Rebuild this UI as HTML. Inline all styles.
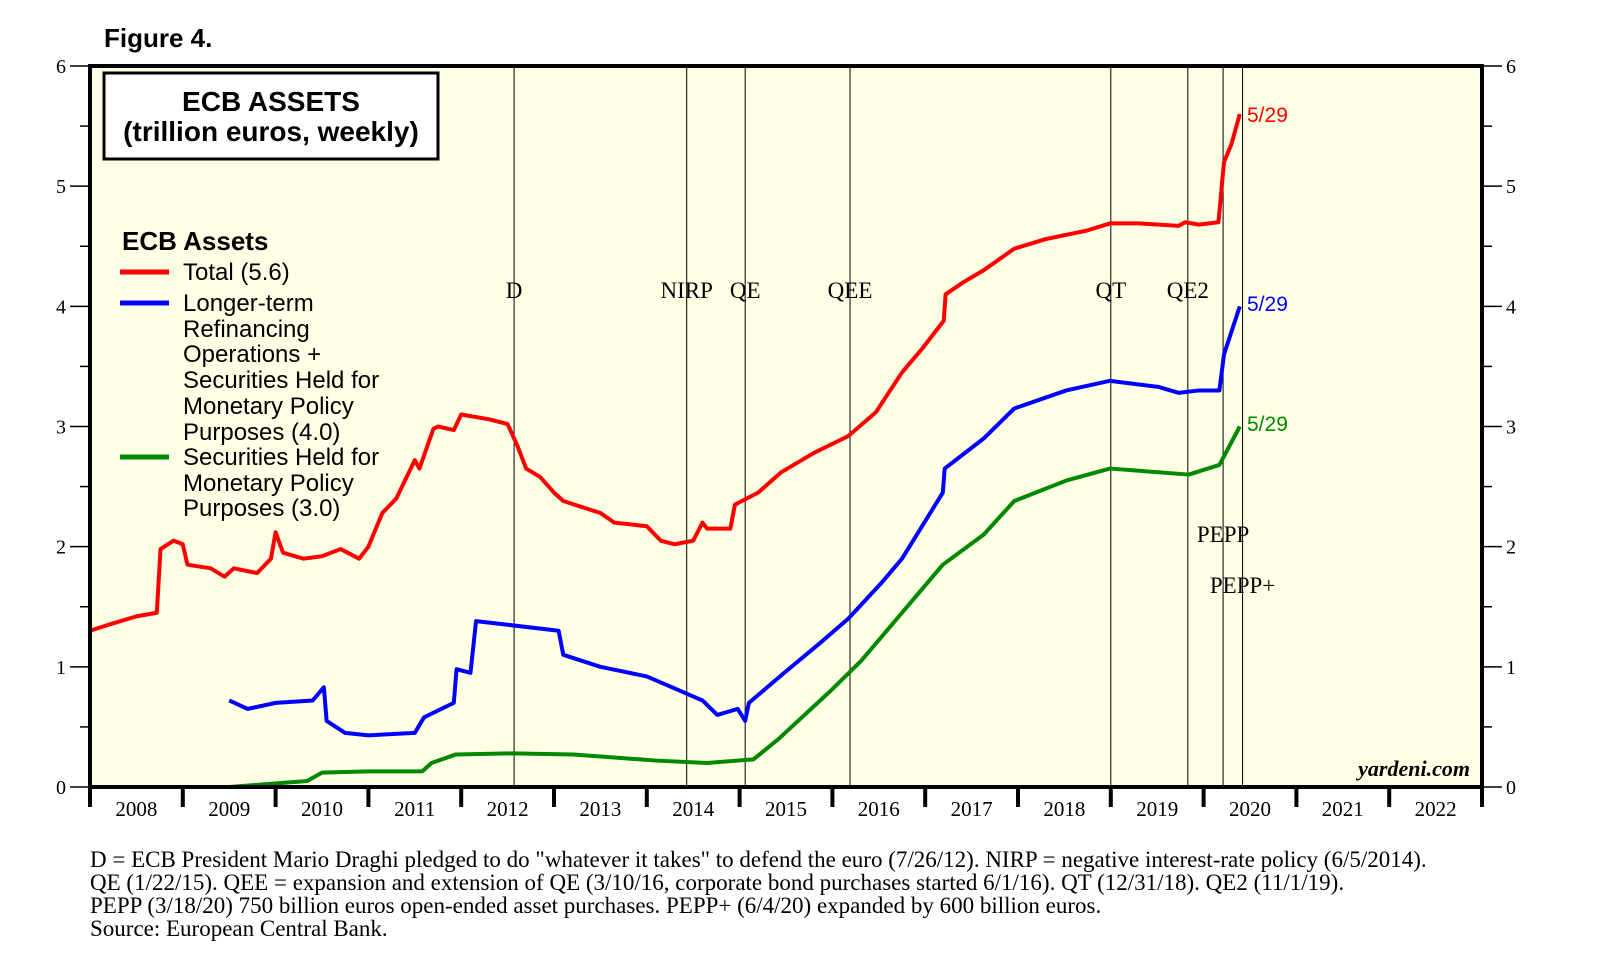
<!DOCTYPE html>
<html><head><meta charset="utf-8"><style>
body{margin:0;background:#fff;width:1610px;height:963px;overflow:hidden}
svg{display:block}
.s{font-family:"Liberation Serif",serif}
.a{font-family:"Liberation Sans",sans-serif}
</style></head><body>
<svg id="c" width="1610" height="963" xmlns="http://www.w3.org/2000/svg">
<text x="104" y="47" class="a" font-size="26" font-weight="bold">Figure 4.</text>
<rect x="90" y="66" width="1392" height="721" fill="#ffffe6"/>
<g id="ev"></g>
<g id="lines"></g>
<rect x="90" y="66" width="1392" height="721" fill="none" stroke="#000" stroke-width="4"/>
<g id="axes"></g>
<rect x="104" y="73" width="334" height="86" fill="#fff" stroke="#000" stroke-width="3"/>
<text x="271" y="111" text-anchor="middle" class="a" font-size="28" font-weight="bold">ECB ASSETS</text>
<text x="271" y="141" text-anchor="middle" class="a" font-size="28" font-weight="bold">(trillion euros, weekly)</text>
<g class="a" font-size="24">
<text x="122" y="250" font-size="26" font-weight="bold">ECB Assets</text>
<line x1="120" y1="272" x2="169" y2="272" stroke="#f00" stroke-width="5"/>
<text x="183" y="280">Total (5.6)</text>
<line x1="120" y1="303" x2="169" y2="303" stroke="#00f" stroke-width="5"/>
<text><tspan x="183" y="311">Longer-term</tspan><tspan x="183" y="337">Refinancing</tspan><tspan x="183" y="362">Operations +</tspan><tspan x="183" y="388">Securities Held for</tspan><tspan x="183" y="414">Monetary Policy</tspan><tspan x="183" y="440">Purposes (4.0)</tspan></text>
<line x1="120" y1="457" x2="169" y2="457" stroke="#080" stroke-width="5"/>
<text><tspan x="183" y="465">Securities Held for</tspan><tspan x="183" y="491">Monetary Policy</tspan><tspan x="183" y="516">Purposes (3.0)</tspan></text>
</g>
<text x="1470" y="776" text-anchor="end" class="s" font-size="22" font-weight="bold" font-style="italic">yardeni.com</text>
<text x="1247" y="122" fill="#f00" class="a" font-size="21">5/29</text>
<text x="1247" y="311" fill="#00f" class="a" font-size="21">5/29</text>
<text x="1247" y="431" fill="#080" class="a" font-size="21">5/29</text>
<g class="s" font-size="23">
<text x="90" y="867">D = ECB President Mario Draghi pledged to do "whatever it takes" to defend the euro (7/26/12). NIRP = negative interest-rate policy (6/5/2014).</text>
<text x="90" y="890">QE (1/22/15). QEE = expansion and extension of QE (3/10/16, corporate bond purchases started 6/1/16). QT (12/31/18). QE2 (11/1/19).</text>
<text x="90" y="913">PEPP (3/18/20) 750 billion euros open-ended asset purchases. PEPP+ (6/4/20) expanded by 600 billion euros.</text>
<text x="90" y="936">Source: European Central Bank.</text>
</g>
</svg>
<script>
const years=[2008,2009,2010,2011,2012,2013,2014,2015,2016,2017,2018,2019,2020,2021,2022];
const yTicks=[0,1,2,3,4,5,6];
const eventNames=["D","NIRP","QE","QEE","QT","QE2","PEPP","PEPP+"];
const eventDates=[2012.57,2014.43,2015.06,2016.19,2019.0,2019.83,2020.21,2020.42];
const eventLabelRow=[0,0,0,0,0,0,1,2];
const totalDates=[2008.0,2008.2,2008.5,2008.72,2008.76,2008.9,2009.0,2009.05,2009.3,2009.45,2009.55,2009.8,2009.95,2010.0,2010.08,2010.3,2010.5,2010.7,2010.9,2011.0,2011.15,2011.3,2011.5,2011.55,2011.7,2011.75,2011.92,2012.0,2012.3,2012.5,2012.6,2012.7,2012.85,2013.0,2013.1,2013.5,2013.65,2014.0,2014.15,2014.3,2014.5,2014.6,2014.65,2014.9,2014.95,2015.2,2015.45,2015.8,2016.17,2016.47,2016.75,2016.97,2017.2,2017.22,2017.41,2017.63,2017.96,2018.3,2018.74,2018.99,2019.3,2019.73,2019.8,2019.95,2020.16,2020.22,2020.3,2020.39];
const totalValues=[1.3,1.35,1.42,1.45,1.98,2.05,2.02,1.85,1.82,1.75,1.82,1.78,1.9,2.12,1.95,1.9,1.92,1.98,1.9,2.0,2.28,2.4,2.72,2.65,2.98,3.0,2.97,3.1,3.06,3.02,2.85,2.65,2.58,2.45,2.38,2.28,2.2,2.17,2.05,2.02,2.05,2.2,2.15,2.15,2.35,2.45,2.62,2.78,2.92,3.12,3.45,3.65,3.88,4.1,4.2,4.3,4.48,4.56,4.63,4.69,4.69,4.67,4.7,4.68,4.7,5.2,5.35,5.6];
const ltroDates=[2009.5,2009.7,2010.0,2010.4,2010.52,2010.55,2010.75,2011.0,2011.5,2011.6,2011.92,2011.95,2012.1,2012.16,2012.5,2013.05,2013.1,2013.5,2014.0,2014.3,2014.6,2014.76,2014.98,2015.06,2015.1,2015.48,2015.87,2016.17,2016.53,2016.75,2017.19,2017.21,2017.63,2017.96,2018.52,2018.99,2019.51,2019.73,2019.95,2020.17,2020.22,2020.39];
const ltroValues=[0.72,0.65,0.7,0.72,0.83,0.55,0.45,0.43,0.45,0.58,0.7,0.98,0.95,1.38,1.35,1.3,1.1,1.0,0.92,0.82,0.72,0.6,0.65,0.55,0.7,0.95,1.2,1.4,1.7,1.9,2.45,2.65,2.9,3.15,3.3,3.38,3.33,3.28,3.3,3.3,3.6,4.0];
const smpDates=[2009.5,2010.34,2010.5,2011.0,2011.58,2011.68,2011.94,2012.55,2013.21,2014.1,2014.65,2014.98,2015.15,2015.42,2015.98,2016.31,2016.75,2016.97,2017.19,2017.63,2017.96,2018.52,2018.99,2019.84,2020.17,2020.39];
const smpValues=[0,0.05,0.12,0.13,0.13,0.2,0.27,0.28,0.27,0.22,0.2,0.22,0.23,0.4,0.8,1.05,1.45,1.65,1.85,2.1,2.38,2.55,2.65,2.6,2.68,3.0];

const L=90,R=1482,T=66,B=787;
const X=t=>L+(t-2008)*(R-L)/15;
const Y=v=>B-v*(B-T)/6;
const NS="http://www.w3.org/2000/svg";
function mk(tag,attrs,parent,txt){const e=document.createElementNS(NS,tag);for(const k in attrs)e.setAttribute(k,attrs[k]);if(txt!==undefined)e.textContent=txt;parent.appendChild(e);return e;}
const ax=document.getElementById('axes'),ev=document.getElementById('ev'),ln=document.getElementById('lines');
years.forEach(y=>{
  const t=mk('line',{x1:X(y),y1:B,x2:X(y),y2:B+20,stroke:'#000','stroke-width':4},ax);
  
  
  const l=mk('text',{x:X(y+0.5),y:B+29,'text-anchor':'middle','font-size':21,'font-family':'Liberation Serif, serif'},ax,String(y));
  
  
});
mk('line',{x1:X(2023),y1:B,x2:X(2023),y2:B+20,stroke:'#000','stroke-width':4},ax);
yTicks.forEach(v=>{
  const a=mk('line',{x1:L-20,y1:Y(v),x2:L,y2:Y(v),stroke:'#000','stroke-width':1.5},ax);
  
  
  const b=mk('line',{x1:R,y1:Y(v),x2:R+20,y2:Y(v),stroke:'#000','stroke-width':1.5},ax);
  
  
  const c=mk('text',{x:L-24,y:Y(v)+7,'text-anchor':'end','font-size':20,'font-family':'Liberation Serif, serif'},ax,String(v));
  
  
  const d=mk('text',{x:R+24,y:Y(v)+7,'font-size':20,'font-family':'Liberation Serif, serif'},ax,String(v));
  
  
  if(v<6){
    const m=Y(v+0.5);
    mk('line',{x1:L-10,y1:m,x2:L,y2:m,stroke:'#000','stroke-width':1.5},ax);
    mk('line',{x1:R,y1:m,x2:R+10,y2:m,stroke:'#000','stroke-width':1.5},ax);
  }
});
const rowY=[298,542,593];
eventDates.forEach((d,i)=>{
  const l=mk('line',{x1:X(d),y1:T,x2:X(d),y2:B,stroke:'#000','stroke-width':1},ev);
  
  
  const t=mk('text',{x:X(d),y:rowY[eventLabelRow[i]],'text-anchor':'middle','font-size':23,'font-family':'Liberation Serif, serif'},ev,eventNames[i]);
  
  
});
function series(ds,vs,col,name){
  const p=mk('polyline',{points:ds.map((d,i)=>X(d)+','+Y(vs[i])).join(' '),fill:'none',stroke:col,'stroke-width':4,'stroke-linejoin':'round'},ln);
  
  
}
series(smpDates,smpValues,'#080','smp-line');
series(ltroDates,ltroValues,'#00f','ltro-line');
series(totalDates,totalValues,'#f00','total-line');
</script>
</body></html>
